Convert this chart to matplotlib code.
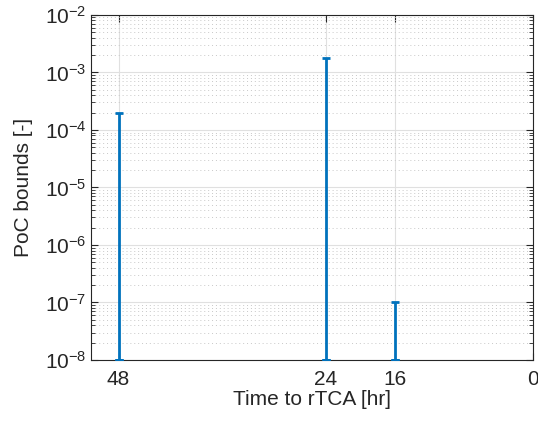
import matplotlib
matplotlib.use("Agg")
import matplotlib.pyplot as plt
import numpy as np
from matplotlib.ticker import LogLocator, NullFormatter, FixedLocator

plt.rcParams['font.family'] = ['Liberation Sans', 'DejaVu Sans']
plt.rcParams['mathtext.fontset'] = 'custom'
plt.rcParams['mathtext.rm'] = 'Liberation Sans'
plt.rcParams['mathtext.it'] = 'Liberation Sans'

hours = [48, 24, 16]
poc_lower = [1e-8, 1e-8, 1e-8]
poc_upper = [2e-4, 1.75e-3, 1e-7]
xticks = [48, 24, 16, 0]
yticks = [1e-8, 1e-7, 1e-6, 1e-5, 1e-4, 1e-3, 1e-2]

fig = plt.figure(figsize=(5.38, 4.24), dpi=100)
ax = fig.add_axes([0.169, 0.151, 0.822, 0.814])

blue = '#0072BD'
up = np.array(poc_upper)
lo = np.array(poc_lower)
ax.errorbar(hours, up, yerr=[up - lo, np.zeros_like(up)], fmt='none',
            ecolor=blue, elinewidth=2, capsize=3, capthick=2, zorder=3)
ax.errorbar(hours, lo, yerr=[np.zeros_like(lo), np.zeros_like(lo)], fmt='none',
            ecolor=blue, elinewidth=2, capsize=3, capthick=2, zorder=3)

ax.set_yscale('log')
ax.set_ylim(1e-8, 1e-2)
ax.set_xlim(51.2, 0)
ax.xaxis.set_major_locator(FixedLocator(xticks))
ax.set_xticklabels([str(t) for t in xticks])
ax.yaxis.set_major_locator(FixedLocator(yticks))
ax.set_yticklabels([r'$10^{%d}$' % int(np.log10(t)) for t in yticks])
ax.yaxis.set_minor_locator(LogLocator(base=10, subs=np.arange(2, 10), numticks=20))
ax.yaxis.set_minor_formatter(NullFormatter())

ax.grid(True, which='major', axis='both', color='#E0E0E0', linewidth=0.8, zorder=0)
ax.grid(True, which='minor', axis='y', color='#C8C8C8', linewidth=0.7,
        linestyle=(0, (1, 3)), zorder=0)
ax.set_axisbelow(True)

for s in ax.spines.values():
    s.set_color('#262626')
    s.set_linewidth(0.8)

ax.tick_params(axis='both', which='both', direction='in', colors='#262626',
               labelcolor='#262626', top=True, right=True, labelsize=15)
ax.tick_params(axis='both', which='major', length=5, width=0.8)
ax.tick_params(axis='x', which='major', pad=7)
ax.tick_params(axis='y', which='major', pad=3)
ax.tick_params(axis='y', which='minor', length=3, width=0.6)

ax.set_xlabel('Time to rTCA [hr]', fontsize=15, color='#262626', labelpad=1)
ax.set_ylabel('PoC bounds [-]', fontsize=15, color='#262626', labelpad=9)

fig.savefig('out.png', dpi=100)
